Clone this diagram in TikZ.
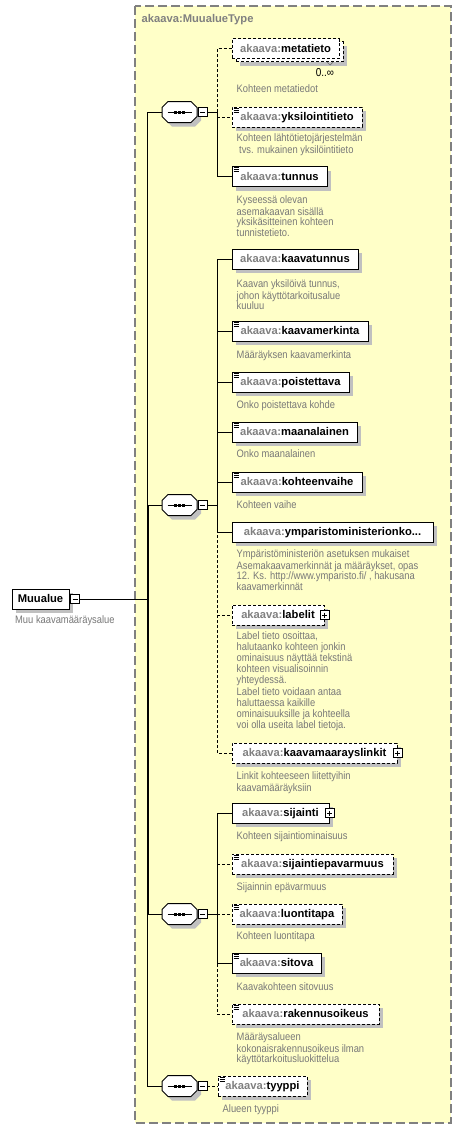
\documentclass[tikz,border=0pt]{standalone}
\usepackage{fontspec}
\setmainfont{Liberation Sans}
\newfontfamily\descfont[FakeStretch=0.867]{Liberation Sans}
\usetikzlibrary{shadows}
\definecolor{bgyellow}{RGB}{255,255,200}
\definecolor{bordergray}{RGB}{128,128,128}
\definecolor{prefixgray}{RGB}{128,128,128}
\definecolor{descgray}{RGB}{120,120,120}
\definecolor{shadowgray}{RGB}{192,192,192}
\newcommand\namefont{\fontsize{11.2}{13}\selectfont\bfseries}
\newcommand\ak[1]{{\color{prefixgray}akaava:}#1}
\tikzset{
  elembase/.style={draw=black, fill=white, line width=1pt, minimum height=20pt,
    inner xsep=0pt, inner ysep=0pt, text height=9pt, text depth=2pt, font=\namefont},
  elem/.style={elembase, drop shadow={shadow xshift=4pt, shadow yshift=-4pt, fill=shadowgray, opacity=1}},
  opt/.style={dash pattern=on 3pt off 2pt},
  desc/.style={anchor=north west, inner sep=0pt, align=left, text=descgray,
    font=\descfont\fontsize{10.8}{10.7}\selectfont},
  conn/.style={line width=1pt, draw=black},
  optconn/.style={conn, dash pattern=on 3pt off 2pt},
  pm/.style={draw=black, fill=white, line width=0.9pt, minimum size=9pt, inner sep=0pt},
  pmminus/.style={path picture={\draw[line width=0.9pt] ([xshift=2pt]path picture bounding box.west) -- ([xshift=-2pt]path picture bounding box.east);}},
  pmplus/.style={path picture={\draw[line width=0.9pt] ([xshift=2pt]path picture bounding box.west) -- ([xshift=-2pt]path picture bounding box.east) ([yshift=-2pt]path picture bounding box.north) -- ([yshift=2pt]path picture bounding box.south);}},
  seqnode/.style={rectangle, minimum width=35pt, minimum height=21pt, inner sep=0pt},
  iconline/.style={line width=0.8pt, draw=black}
}
\newcommand\seqsym[3]{%
  \fill[shadowgray] ({#2-17.5+4},{#3-10.5+4}) ++(6,0) -- ++(23,0) -- ++(6,6) -- ++(0,9) -- ++(-6,6) -- ++(-23,0) -- ++(-6,-6) -- ++(0,-9) -- cycle;
  \draw[line width=1pt, fill=white] ({#2-17.5},{#3-10.5}) ++(6,0) -- ++(23,0) -- ++(6,6) -- ++(0,9) -- ++(-6,6) -- ++(-23,0) -- ++(-6,-6) -- ++(0,-9) -- cycle;
  \node[seqnode] (#1) at (#2,#3) {};
  \draw[line width=1pt] ({#2-12},#3) -- ({#2+12},#3);
  \foreach \dx in {-4,0,4} {\fill ({#2+\dx-1.5},{#3-1.5}) rectangle ++(3,3);}
  \node[pm,pmminus] (#1m) at ({#2+23},#3) {};
}
\newcommand\elicon[1]{%
  \draw[iconline] ([shift={(2pt,-1.5pt)}]#1.north west) -- ++(5,0)
    ([shift={(2pt,-3.5pt)}]#1.north west) -- ++(5,0)
    ([shift={(2pt,-5.5pt)}]#1.north west) -- ++(5,0);}
\begin{document}
\begin{tikzpicture}[x=1pt,y=-1pt]
\useasboundingbox (0,0) rectangle (462,1130);
\fill[white] (0,0) rectangle (462,1130);
\fill[bgyellow] (135,6) rectangle (451,1123);
\draw[bordergray, line width=1.2pt, dash pattern=on 9pt off 4pt] (135,6) rectangle (451,1123);
\node[anchor=west, inner sep=0pt, text=prefixgray, font=\namefont] (title) at (141.5,19.5) {akaava:MuualueType};

% root element
\node[elem, minimum width=57pt] (muualue) at (40.5,599) {Muualue};
\node[pm,pmminus] (mm) at (75,599) {};
\node[desc] (dmuualue) at (15,615) {\strut Muu kaavamääräysalue};

% sequences
\seqsym{s1}{179.5}{112}
\seqsym{s2}{179.5}{505}
\seqsym{s3}{179.5}{914}
\seqsym{s4}{179.5}{1086}

% trunk
\coordinate (trunk) at (148,599);
\draw[conn] (mm.east) -- (trunk);
\draw[conn] (s1.west) -- ++(-14,0) |- (s4.west);
\draw[conn] (trunk) |- (s2.west);
\draw[conn] (trunk) |- (s3.west);

% ---- sequence 1 elements
\node[elem, opt, minimum width=107pt] (metaback) at (289.5,51.5) {};
\node[elembase, opt, minimum width=107pt] (metatieto) at (285.5,48.5) {\ak{metatieto}};
\draw[line width=0.7pt, black!55] (327,62) -- (330,65) -- (333,62);
\node[inner sep=0pt, font=\descfont\fontsize{11.5}{12}\selectfont] (metaocc) at (325,73) {0..∞};
\node[desc] (dmeta) at (236.5,84) {\strut Kohteen metatiedot};

\node[elem, opt, minimum width=130pt] (yksil) at (297,117) {\ak{yksilointitieto}};
\elicon{yksil}
\node[desc] (dyksil) at (236.5,133) {\strut Kohteen lähtötietojärjestelmän\\\hspace*{2.5pt}tvs. mukainen yksilöintitieto};

\node[elem, minimum width=95pt] (tunnus) at (279.5,176.5) {\ak{tunnus}};
\elicon{tunnus}
\node[desc] (dtunnus) at (236.5,195) {\strut Kyseessä olevan\\asemakaavan sisällä\\yksikäsitteinen kohteen\\tunnistetieto.};

\coordinate (b1) at (217,112);
\draw[conn] (s1m.east) -- (b1);
\draw[optconn] (b1) |- (metatieto.west);
\draw[optconn] (b1) |- (yksil.west);
\draw[conn] (b1) |- (tunnus.west);

% ---- sequence 2 elements
\node[elem, minimum width=126pt] (kaavatunnus) at (295,259) {\ak{kaavatunnus}};
\node[desc] (dkaavatunnus) at (236.5,279) {\strut Kaavan yksilöivä tunnus,\\johon käyttötarkoitusalue\\kuuluu};

\node[elem, minimum width=136pt] (kaavamerkinta) at (300,331) {\ak{kaavamerkinta}};
\elicon{kaavamerkinta}
\node[desc] (dkaavamerkinta) at (236.5,350) {\strut Määräyksen kaavamerkinta};

\node[elem, minimum width=117pt] (poistettava) at (290.5,382) {\ak{poistettava}};
\elicon{poistettava}
\node[desc] (dpoistettava) at (236.5,400) {\strut Onko poistettava kohde};

\node[elem, minimum width=125pt] (maanalainen) at (294.5,432) {\ak{maanalainen}};
\elicon{maanalainen}
\node[desc] (dmaanalainen) at (236.5,449) {\strut Onko maanalainen};

\node[elem, minimum width=130pt] (kohteenvaihe) at (297,482) {\ak{kohteenvaihe}};
\elicon{kohteenvaihe}
\node[desc] (dkohteenvaihe) at (236.5,500) {\strut Kohteen vaihe};

\node[elem, minimum width=201pt] (ymparisto) at (332.5,532) {\ak{ymparistoministerionko...}};
\node[desc] (dymparisto) at (236.5,549) {\strut Ympäristöministeriön asetuksen mukaiset\\Asemakaavamerkinnät ja määräykset, opas\\12. Ks. http://www.ymparisto.fi/ , hakusana\\kaavamerkinnät};

\node[elem, opt, minimum width=92pt] (labelit) at (278,615) {\ak{labelit}\hspace{3pt}};
\node[pm,pmplus] (labelitp) at (labelit.east) {};
\node[desc, font=\descfont\fontsize{10.8}{11.2}\selectfont] (dlabelit) at (236.5,631) {\strut Label tieto osoittaa,\\halutaanko kohteen jonkin\\ominaisuus näyttää tekstinä\\kohteen visualisoinnin\\yhteydessä.\\Label tieto voidaan antaa\\haluttaessa kaikille\\ominaisuuksille ja kohteella\\voi olla useita label tietoja.};

\node[elem, opt, minimum width=165pt] (linkit) at (314.5,753) {\ak{kaavamaarayslinkit}\hspace{3pt}};
\node[pm,pmplus] (linkitp) at (linkit.east) {};
\node[desc] (dlinkit) at (236.5,771) {\strut Linkit kohteeseen liitettyihin\\kaavamääräyksiin};

\coordinate (b2) at (217,505);
\draw[conn] (s2m.east) -- (b2);
\draw[optconn] (b2) |- (labelit.west);
\draw[optconn] (b2) |- (linkit.west);
\draw[conn] (b2) |- (kaavatunnus.west);
\draw[conn] (b2) |- (kaavamerkinta.west);
\draw[conn] (b2) |- (poistettava.west);
\draw[conn] (b2) |- (maanalainen.west);
\draw[conn] (b2) |- (kohteenvaihe.west);
\draw[conn] (b2) |- (ymparisto.west);

% ---- sequence 3 elements
\node[elem, minimum width=97pt] (sijainti) at (280.5,813) {\ak{sijainti}\hspace{3pt}};
\node[pm,pmplus] (sijaintip) at (sijainti.east) {};
\node[desc] (dsijainti) at (236.5,831) {\strut Kohteen sijaintiominaisuus};

\node[elem, opt, minimum width=161pt] (epavarmuus) at (312.5,864) {\ak{sijaintiepavarmuus}};
\elicon{epavarmuus}
\node[desc] (depavarmuus) at (236.5,882) {\strut Sijainnin epävarmuus};

\node[elem, opt, minimum width=110pt] (luontitapa) at (287,914) {\ak{luontitapa}};
\elicon{luontitapa}
\node[desc] (dluontitapa) at (236.5,931) {\strut Kohteen luontitapa};

\node[elem, minimum width=89pt] (sitova) at (276.5,963) {\ak{sitova}};
\elicon{sitova}
\node[desc] (dsitova) at (236.5,982) {\strut Kaavakohteen sitovuus};

\node[elem, opt, minimum width=147pt] (rakennusoikeus) at (305.5,1014) {\ak{rakennusoikeus}};
\elicon{rakennusoikeus}
\node[desc] (drakennusoikeus) at (236.5,1032) {\strut Määräysalueen\\kokonaisrakennusoikeus ilman\\käyttötarkoitusluokittelua};

\coordinate (b3) at (217,914);
\draw[conn] (s3m.east) -- (b3);
\draw[optconn] (b3) |- (epavarmuus.west);
\draw[optconn] (b3) |- (luontitapa.west);
\draw[optconn] (b3) |- (rakennusoikeus.west);
\draw[conn] (b3) |- (sijainti.west);
\draw[conn] (b3) |- (sitova.west);

% ---- sequence 4 element
\node[elem, opt, minimum width=89pt] (tyyppi) at (262.5,1086) {\ak{tyyppi}};
\elicon{tyyppi}
\node[desc] (dtyyppi) at (222.5,1104) {\strut Alueen tyyppi};
\draw[optconn] (s4m.east) -- (tyyppi.west);
\end{tikzpicture}
\end{document}
